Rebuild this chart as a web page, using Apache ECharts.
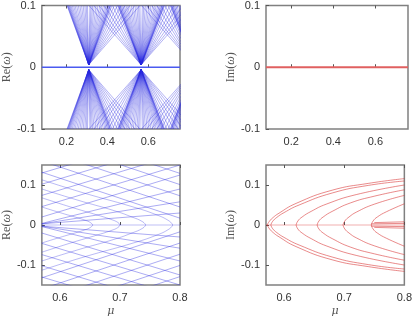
<!DOCTYPE html>
<html><head><meta charset="utf-8">
<script src="https://cdn.jsdelivr.net/npm/echarts@6/dist/echarts.min.js"></script>
<style>html,body{margin:0;padding:0;background:#fff}#c{width:415px;height:318px}</style>
</head><body><div id="c"></div>
<script>
// ---------- DATA ----------
// Top panels: mu range
const topMuRange = [0.08, 0.755];
const topXTicks = [0.2, 0.4, 0.6];
const topYTicks = [-0.1, 0, 0.1];
// Top-left: fans of Re(omega) branches meeting near zero at these nodes
const fanNodes = [0.309, 0.565, 0.822];
// distance (in mu) left of each node at which an incoming branch sits at |Re|=0.1
const fanLeftArms = [
  [0.106, 0.104, 0.102, 0.099, 0.096, 0.092, 0.087, 0.081, 0.074, 0.067, 0.059, 0.051, 0.043, 0.035, 0.027, 0.019, 0.012, 0.006],
  [0.255, 0.23, 0.205, 0.18, 0.16, 0.14, 0.125, 0.115, 0.112, 0.11, 0.107, 0.104, 0.1, 0.095, 0.089, 0.082, 0.074, 0.066, 0.057, 0.048, 0.039, 0.03, 0.021, 0.013, 0.006],
  [0.255, 0.23, 0.205, 0.18, 0.16, 0.14, 0.125, 0.115, 0.112, 0.11, 0.107, 0.104, 0.1, 0.095, 0.089, 0.082, 0.074, 0.066, 0.057, 0.048, 0.039, 0.03, 0.021, 0.013, 0.006]
];
// distance (in mu) right of each node at which an outgoing branch reaches |Re|=0.1
const fanRightArms = [
  [0.25, 0.225, 0.2, 0.178, 0.158, 0.14, 0.125, 0.114, 0.108, 0.105, 0.102, 0.098, 0.093, 0.087, 0.08, 0.072, 0.063, 0.054, 0.045, 0.036, 0.027, 0.019, 0.012, 0.006],
  [0.255, 0.23, 0.205, 0.18, 0.16, 0.14, 0.125, 0.115, 0.112, 0.11, 0.107, 0.104, 0.1, 0.095, 0.089, 0.082, 0.074, 0.066, 0.057, 0.048, 0.039, 0.03, 0.021, 0.013, 0.006],
  []
];
const fanGap = 0.004;
// Top-right: Im(omega) is zero everywhere
const imTopZero = [0.08, 0.755];

// Bottom panels
const botMuRange = [0.57, 0.8];
const botXTicks = [0.6, 0.7, 0.8];
const botYTicks = [-0.1, 0, 0.1];
// Bottom-left: Re(omega) branches (upper half; mirrored below). Each: list of [mu, Re]
const reDescending = [
  [[0.57, 0.30], [0.8, 0.185]],
  [[0.57, 0.272], [0.8, 0.157]],
  [[0.57, 0.244], [0.8, 0.129]],
  [[0.57, 0.216], [0.8, 0.101]],
  [[0.57, 0.188], [0.8, 0.073]],
  [[0.57, 0.16], [0.8, 0.045]],
  [[0.57, 0.132], [0.8, 0.017]]
];
// descending branches that collide at zero (sqrt-like arcs)
const reArcs = [
  [[0.57, 0.045], [0.6, 0.031], [0.625, 0.02], [0.642, 0.012], [0.651, 0.006], [0.655, 0]],
  [[0.57, 0.068], [0.62, 0.044], [0.66, 0.026], [0.685, 0.014], [0.697, 0.006], [0.70, 0]],
  [[0.57, 0.09], [0.63, 0.062], [0.69, 0.036], [0.72, 0.02], [0.738, 0.008], [0.743, 0]],
  [[0.57, 0.113], [0.64, 0.08], [0.72, 0.046], [0.76, 0.026], [0.782, 0.01], [0.788, 0]]
];
const reAscending = [
  [[0.57, 0.003], [0.8, 0.03]],
  [[0.57, 0.003], [0.8, 0.058]],
  [[0.57, 0.004], [0.8, 0.09]],
  [[0.57, 0.02], [0.8, 0.125]],
  [[0.57, 0.046], [0.8, 0.15]],
  [[0.57, 0.074], [0.8, 0.178]],
  [[0.57, 0.102], [0.8, 0.206]],
  [[0.57, 0.13], [0.8, 0.234]]
];
const reZeroLine = [[0.57, 0], [0.8, 0]];
// Bottom-right: Im(omega) bifurcating branches (upper half; mirrored below)
const imBranches = [
  [[0.572, 0], [0.576, 0.01], [0.582, 0.019], [0.59, 0.028], [0.62, 0.054], [0.68, 0.087], [0.74, 0.104], [0.8, 0.116]],
  [[0.578, 0], [0.581, 0.009], [0.588, 0.019], [0.6, 0.031], [0.625, 0.05], [0.68, 0.08], [0.74, 0.099], [0.8, 0.11]],
  [[0.62, 0], [0.623, 0.01], [0.63, 0.02], [0.645, 0.034], [0.67, 0.052], [0.72, 0.076], [0.8, 0.1]],
  [[0.655, 0], [0.658, 0.01], [0.665, 0.02], [0.68, 0.034], [0.71, 0.055], [0.75, 0.072], [0.8, 0.088]],
  [[0.698, 0], [0.701, 0.01], [0.708, 0.02], [0.72, 0.032], [0.75, 0.052], [0.8, 0.074]],
  [[0.745, 0], [0.748, 0.01], [0.755, 0.02], [0.77, 0.033], [0.8, 0.053]]
];
const imSmall = [
  [[0.745, 0.003], [0.8, 0.004]],
  [[0.75, 0.006], [0.8, 0.008]]
];
const imZeroLine = [[0.57, 0], [0.8, 0]];

// ---------- CHART ----------
const chart = echarts.init(document.getElementById('c'), null, {renderer: 'canvas'});
const grids = [
  {left: 38, top: 5, width: 142, height: 124},
  {left: 266, top: 5, width: 142, height: 124},
  {left: 38, top: 165, width: 142, height: 124},
  {left: 266, top: 165, width: 142, height: 124}
].map(g => Object.assign({show: true, borderColor: '#808080', borderWidth: 1.5, backgroundColor: '#fff'}, g));

const labelStyle = {color: '#333', fontSize: 11, fontFamily: 'Liberation Sans'};
const tickStyle = {inside: true, length: 3, lineStyle: {color: '#555', width: 1}};
function xAx(i, range, ticks, name) {
  return [{
    type: 'value', gridIndex: i, min: range[0], max: range[1], position: 'bottom',
    axisLine: {show: false}, splitLine: {show: false},
    axisTick: Object.assign({customValues: ticks}, tickStyle),
    axisLabel: Object.assign({customValues: ticks, margin: 7, formatter: v => String(+v.toFixed(2))}, labelStyle),
    name: name || '', nameLocation: 'middle', nameGap: 21,
    nameTextStyle: {fontFamily: 'DejaVu Serif', fontStyle: 'italic', fontSize: 11, color: '#555'}
  }, {
    type: 'value', gridIndex: i, min: range[0], max: range[1], position: 'top',
    axisLine: {show: false}, splitLine: {show: false},
    axisTick: Object.assign({customValues: ticks}, tickStyle), axisLabel: {show: false}
  }];
}
function yAx(i, range, ticks, part) {
  return {
    type: 'value', gridIndex: i, min: range[0], max: range[1],
    axisLine: {show: false}, splitLine: {show: false},
    axisTick: Object.assign({customValues: ticks}, tickStyle),
    axisLabel: Object.assign({customValues: ticks, margin: 6, formatter: v => String(+v.toFixed(2))}, labelStyle),
    name: '{a|' + part + '(}{b|ω}{a|)}', nameLocation: 'middle', nameGap: 22, nameRotate: 90,
    nameTextStyle: {rich: {
      a: {fontFamily: 'Liberation Serif', fontSize: 12, color: '#555'},
      b: {fontFamily: 'Liberation Serif', fontStyle: 'italic', fontSize: 12, color: '#555'}
    }}
  };
}
const xAxes = [].concat(
  xAx(0, topMuRange, topXTicks), xAx(1, topMuRange, topXTicks),
  xAx(2, botMuRange, botXTicks, 'μ'), xAx(3, botMuRange, botXTicks, 'μ'));
const yAxes = [
  yAx(0, [-0.1, 0.1], topYTicks, 'Re'), yAx(1, [-0.1, 0.1], topYTicks, 'Im'),
  yAx(2, [-0.15, 0.15], botYTicks, 'Re'), yAx(3, [-0.15, 0.15], botYTicks, 'Im')
];
const series = [];
function addLine(idx, pts, color, width, opacity, smooth) {
  series.push({
    type: 'line', xAxisIndex: idx * 2, yAxisIndex: idx, data: pts, showSymbol: false,
    smooth: !!smooth, clip: true, silent: true, animation: false,
    lineStyle: {color: color, width: width, opacity: opacity}
  });
}
const mirror = pts => pts.map(p => [p[0], -p[1]]);
const blue = '#2a2ae0';
const red = '#d42020';

// top-left fans
fanNodes.forEach((n, k) => {
  fanLeftArms[k].forEach(d => {
    const arm = [[n - d, 0.1], [n, fanGap]];
    addLine(0, arm, blue, 0.6, 0.6);
    addLine(0, mirror(arm), blue, 0.6, 0.6);
  });
  fanRightArms[k].forEach(d => {
    const arm = [[n, fanGap], [n + d, 0.1]];
    addLine(0, arm, blue, 0.6, 0.6);
    addLine(0, mirror(arm), blue, 0.6, 0.6);
  });
});
addLine(0, [[topMuRange[0], 0], [topMuRange[1], 0]], '#4a5af0', 1.6, 1);
// top-right
addLine(1, imTopZero.map(x => [x, 0]), '#e06060', 2, 1);
// bottom-left
reDescending.concat(reAscending).forEach(p => { addLine(2, p, blue, 0.6, 0.65); addLine(2, mirror(p), blue, 0.6, 0.65); });
reArcs.forEach(p => { addLine(2, p, blue, 0.6, 0.55, true); addLine(2, mirror(p), blue, 0.6, 0.55, true); });
addLine(2, reZeroLine, blue, 0.6, 0.5);
// bottom-right
imBranches.forEach(p => { addLine(3, p, red, 0.7, 0.75, true); addLine(3, mirror(p), red, 0.7, 0.75, true); });
imSmall.forEach(p => { addLine(3, p, red, 0.7, 0.75); addLine(3, mirror(p), red, 0.7, 0.75); });
addLine(3, imZeroLine, red, 0.6, 0.6);

chart.setOption({animation: false, grid: grids, xAxis: xAxes, yAxis: yAxes, series: series});
</script></body></html>
